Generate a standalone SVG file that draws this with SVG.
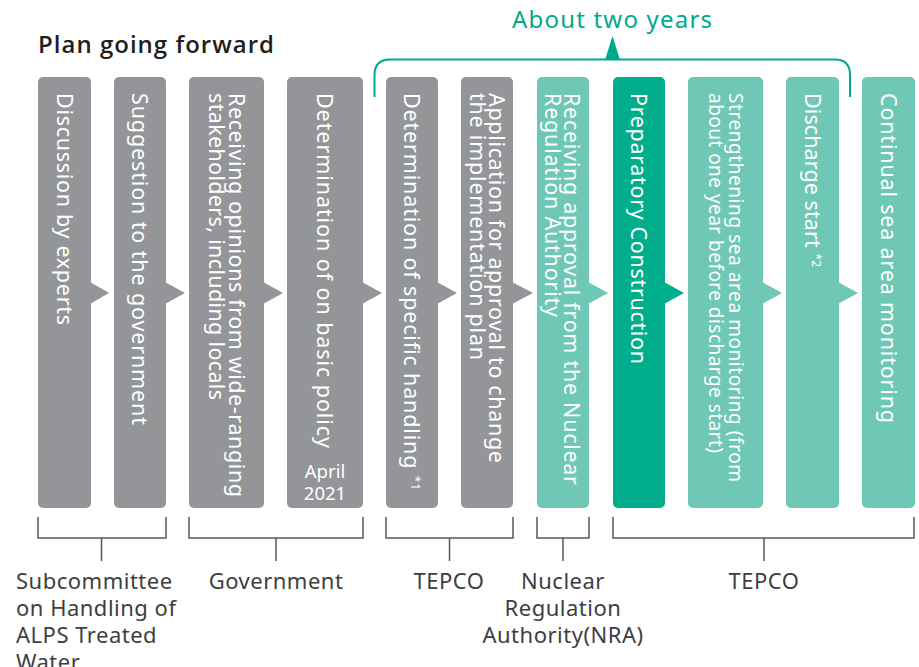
<svg xmlns="http://www.w3.org/2000/svg" width="919" height="667" viewBox="0 0 919 667">
<style>
.bg{fill:#ffffff}
.gray{fill:#939598}
.light{fill:#6fc8b5}
.dark{fill:#00ae8e}
.bt{font-family:"Noto Sans","Open Sans",sans-serif;font-size:21.5px;fill:#ffffff}
.bs{font-size:19px}
.sup{font-size:12px}
.lbl{font-family:"Noto Sans","Open Sans",sans-serif;font-size:22px;fill:#3e3e3e;letter-spacing:0.5px}
.br{fill:none;stroke:#595959;stroke-width:1.5}
.teal{fill:none;stroke:#00a98b;stroke-width:2}
</style>
<rect class="bg" x="0" y="0" width="919" height="667"/>
<g id="title">
<text x="38" y="53" font-family="'Open Sans','Noto Sans',sans-serif" font-size="24" font-weight="600" fill="#231f20" textLength="236" lengthAdjust="spacing">Plan going forward</text>
</g>
<g id="period">
<path class="teal" d="M374.5 97 V75 Q374.5 59.5 390 59.5 H835 Q850 59.5 850 75 V97"/>
<polygon points="605,60 612.5,36 620,60" fill="#00a98b"/>
<text x="612" y="28" text-anchor="middle" font-family="'Noto Sans','Open Sans',sans-serif" font-size="24" fill="#00a98b" textLength="200" lengthAdjust="spacing">About two years</text>
</g>
<g id="connectors">
<polygon class="gray" points="90,282 109,293 90,304"/>
<polygon class="gray" points="165,282 185,293 165,304"/>
<polygon class="gray" points="263,282 283,293 263,304"/>
<polygon class="gray" points="362,282 382,293 362,304"/>
<polygon class="gray" points="437,282 457,293 437,304"/>
<polygon class="gray" points="512,282 533,293 512,304"/>
<polygon class="light" points="588,282 608,293 588,304"/>
<polygon class="dark" points="664,282 684,293 664,304"/>
<polygon class="light" points="762,282 782,293 762,304"/>
<polygon class="light" points="838,282 858,293 838,304"/>
</g>
<g id="bar1">
<rect class="gray" x="38" y="77" width="53" height="431" rx="5"/>
<text class="bt" transform="translate(56.5,93) rotate(90)" textLength="232" lengthAdjust="spacing">Discussion by experts</text>
</g>
<g id="bar2">
<rect class="gray" x="114" y="77" width="52" height="431" rx="5"/>
<text class="bt" transform="translate(132,93) rotate(90)" textLength="332" lengthAdjust="spacing">Suggestion to the government</text>
</g>
<g id="bar3">
<rect class="gray" x="189" y="77" width="75" height="431" rx="5"/>
<text class="bt" transform="translate(228.5,93) rotate(90)" textLength="404" lengthAdjust="spacing">Receiving opinions from wide-ranging</text>
<text class="bt" transform="translate(208.5,93) rotate(90)" textLength="307" lengthAdjust="spacing">stakeholders, including locals</text>
</g>
<g id="bar4">
<rect class="gray" x="287" y="77" width="76" height="431" rx="5"/>
<text class="bt" transform="translate(317,93) rotate(90)" textLength="355" lengthAdjust="spacing">Determination of on basic policy</text>
<text x="325" y="478" text-anchor="middle" font-family="'Noto Sans','Open Sans',sans-serif" font-size="18.5" fill="#ffffff">April</text>
<text x="325" y="500" text-anchor="middle" font-family="'Noto Sans','Open Sans',sans-serif" font-size="18.5" fill="#ffffff">2021</text>
</g>
<g id="bar5">
<rect class="gray" x="386" y="77" width="52" height="431" rx="5"/>
<text class="bt" transform="translate(404,93) rotate(90)" textLength="397" lengthAdjust="spacing">Determination of specific handling <tspan class="sup" baseline-shift="7">*1</tspan></text>
</g>
<g id="bar6">
<rect class="gray" x="461" y="77" width="52" height="431" rx="5"/>
<text class="bt" transform="translate(489,93) rotate(90)" textLength="370" lengthAdjust="spacing">Application for approval to change</text>
<text class="bt" transform="translate(470,93) rotate(90)" textLength="267" lengthAdjust="spacing">the implementation plan</text>
</g>
<g id="bar7">
<rect class="light" x="537" y="77" width="52" height="431" rx="5"/>
<text class="bt" transform="translate(564,93) rotate(90)" textLength="392" lengthAdjust="spacing">Receiving approval from the Nuclear</text>
<text class="bt" transform="translate(545,93) rotate(90)" textLength="224" lengthAdjust="spacing">Regulation Authority</text>
</g>
<g id="bar8">
<rect class="dark" x="613" y="77" width="52" height="431" rx="5"/>
<text class="bt" transform="translate(631,93) rotate(90)" textLength="271" lengthAdjust="spacing">Preparatory Construction</text>
</g>
<g id="bar9">
<rect class="light" x="688" y="77" width="75" height="431" rx="5"/>
<text class="bt bs" transform="translate(729,93) rotate(90)" textLength="389" lengthAdjust="spacing">Strengthening sea area monitoring (from</text>
<text class="bt bs" transform="translate(709,93) rotate(90)" textLength="360" lengthAdjust="spacing">about one year before discharge start)</text>
</g>
<g id="bar10">
<rect class="light" x="786" y="77" width="53" height="431" rx="5"/>
<text class="bt" transform="translate(804.5,93) rotate(90)" textLength="174" lengthAdjust="spacing">Discharge start <tspan class="sup" baseline-shift="7">*2</tspan></text>
</g>
<g id="bar11">
<rect class="light" x="862" y="77" width="53" height="431" rx="5"/>
<text class="bt" transform="translate(880.5,93) rotate(90)" textLength="330" lengthAdjust="spacing">Continual sea area monitoring</text>
</g>
<g id="brackets">
<path class="br" d="M38 517 V538 H166 V517 M101.5 538 V561"/>
<path class="br" d="M189 517 V538 H363 V517 M276 538 V561"/>
<path class="br" d="M386 517 V538 H513 V517 M449.5 538 V561"/>
<path class="br" d="M537 517 V538 H589 V517 M563 538 V561"/>
<path class="br" d="M613 517 V538 H914 V517 M764 538 V561"/>
</g>
<g id="label-subcommittee">
<text class="lbl" x="16" y="588.5">Subcommittee</text>
<text class="lbl" x="16" y="615.5">on Handling of</text>
<text class="lbl" x="16" y="642.5">ALPS Treated</text>
<text class="lbl" x="16" y="669.5">Water</text>
</g>
<g id="label-government">
<text class="lbl" x="276" y="588.5" text-anchor="middle">Government</text>
</g>
<g id="label-tepco1">
<text class="lbl" x="449" y="588.5" text-anchor="middle">TEPCO</text>
</g>
<g id="label-nra">
<text class="lbl" x="563" y="588.5" text-anchor="middle">Nuclear</text>
<text class="lbl" x="563" y="615.5" text-anchor="middle">Regulation</text>
<text class="lbl" x="563" y="642.5" text-anchor="middle">Authority(NRA)</text>
</g>
<g id="label-tepco2">
<text class="lbl" x="764" y="588.5" text-anchor="middle">TEPCO</text>
</g>
</svg>
